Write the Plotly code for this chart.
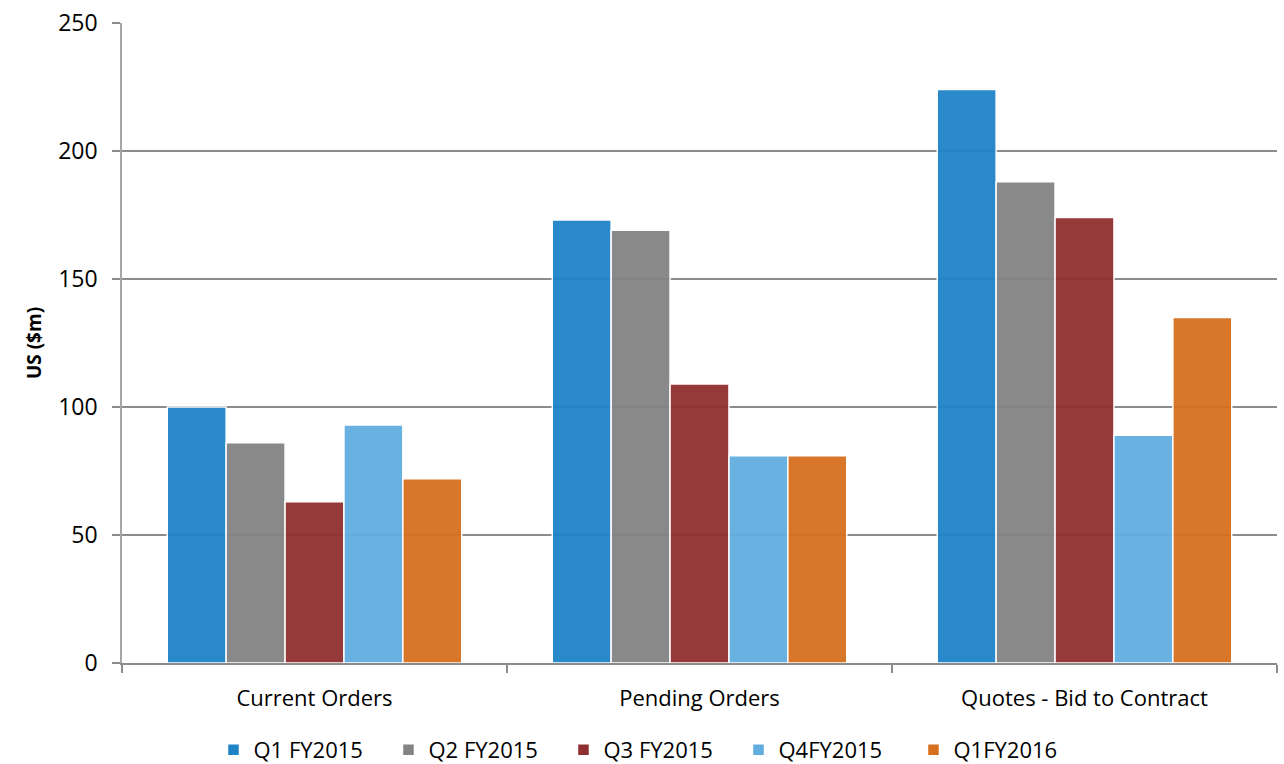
import plotly.graph_objects as go

categories = ["Current Orders", "Pending Orders", "Quotes - Bid to Contract"]
series_names = ["Q1 FY2015", "Q2 FY2015", "Q3 FY2015", "Q4FY2015", "Q1FY2016"]
q1_fy2015 = [100, 173, 224]
q2_fy2015 = [86, 169, 188]
q3_fy2015 = [63, 109, 174]
q4_fy2015 = [93, 81, 89]
q1_fy2016 = [72, 81, 135]
y_ticks = [0, 50, 100, 150, 200, 250]

series_values = [q1_fy2015, q2_fy2015, q3_fy2015, q4_fy2015, q1_fy2016]
colors = ["#1f83c8", "#838383", "#902f2f", "#62ade0", "#d66f1e"]

FONT = "Open Sans"

fig = go.Figure()
for name, vals, col in zip(series_names, series_values, colors):
    fig.add_trace(go.Bar(
        x=categories, y=vals, name=name,
        marker=dict(color=col, opacity=0.95, line=dict(color="white", width=1.5)),
    ))

fig.update_layout(
    width=1284, height=764,
    margin=dict(l=122, r=7, t=23, b=101, autoexpand=False),
    paper_bgcolor="white", plot_bgcolor="white",
    barmode="group", bargap=0.235, bargroupgap=0.0,
    font=dict(family=FONT, size=22, color="#000000"),
    showlegend=True,
    legend=dict(orientation="h", x=0.458, xanchor="center", y=-0.136, yanchor="middle",
                font=dict(family=FONT, size=22, color="#000000"),
                entrywidth=130, entrywidthmode="pixels",
                traceorder="normal", tracegroupgap=0),
    xaxis=dict(
        type="category", showgrid=False, showline=True, linecolor="#8c8c8c", linewidth=1.5,
        ticks="outside", tickson="boundaries", ticklen=8, tickcolor="#8c8c8c", tickwidth=1.5,
        tickfont=dict(family=FONT, size=22, color="#000000"), ticklabelstandoff=15,
    ),
    yaxis=dict(
        range=[0, 250], tickvals=y_ticks, showgrid=True, gridcolor="#8c8c8c", gridwidth=1.5,
        showline=True, linecolor="#a6a6a6", linewidth=1.5,
        ticks="outside", ticklen=8, tickcolor="#8c8c8c", tickwidth=1.5,
        tickfont=dict(family=FONT, size=23, color="#000000"), ticklabelstandoff=10,
        title=dict(text="<b>US ($m)</b>", font=dict(family=FONT, size=19, color="#000000"), standoff=12),
        zeroline=False,
    ),
)

fig.write_html("out.html")
